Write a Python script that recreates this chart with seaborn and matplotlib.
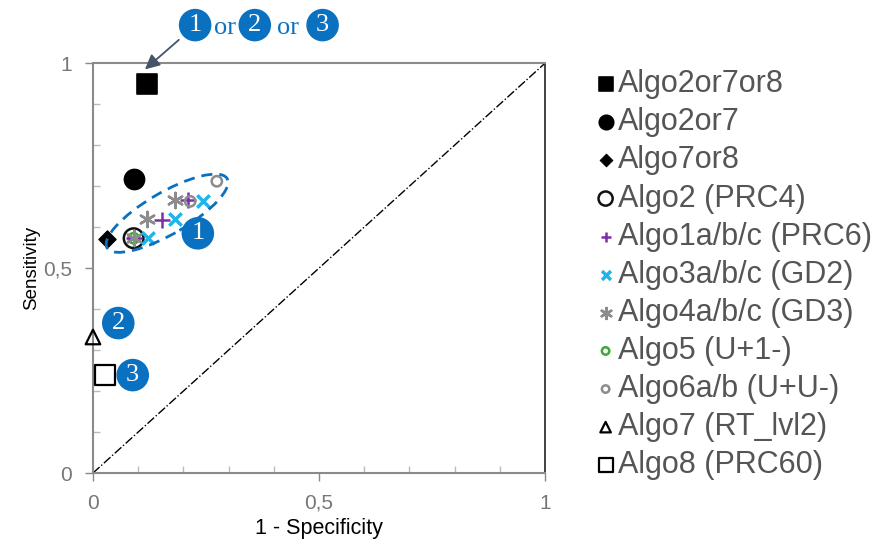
import matplotlib
matplotlib.use("Agg")
import matplotlib.pyplot as plt
from matplotlib.patches import Ellipse
from matplotlib.ticker import FixedLocator, MultipleLocator
import seaborn as sns
import pandas as pd

sns.set_theme(style="white")
plt.rcParams["font.family"] = ["Liberation Sans", "DejaVu Sans"]

# ROC-space points for each algorithm (x = 1 - specificity, y = sensitivity)
labels = [
    "Algo2or7or8", "Algo2or7", "Algo7or8", "Algo2 (PRC4)",
    "Algo1a/b/c (PRC6)", "Algo3a/b/c (GD2)", "Algo4a/b/c (GD3)",
    "Algo5 (U+1-)", "Algo6a/b (U+U-)", "Algo7 (RT_lvl2)", "Algo8 (PRC60)",
]
fpr = [
    [0.12], [0.09], [0.03], [0.09],
    [0.09, 0.153, 0.21], [0.122, 0.181, 0.243], [0.09, 0.119, 0.181],
    [0.09], [0.215, 0.274], [0.0], [0.027],
]
tpr = [
    [0.95], [0.717], [0.571], [0.573],
    [0.573, 0.617, 0.666], [0.573, 0.62, 0.663], [0.573, 0.62, 0.666],
    [0.573], [0.663, 0.712], [0.332], [0.24],
]

BLUE = "#0A70C0"
styles = [
    dict(marker="s", s=220, color="black", edgecolor="black"),
    dict(marker="o", s=210, color="black", edgecolor="black"),
    dict(marker="D", s=80, color="black", edgecolor="black"),
    dict(marker="o", s=200, facecolor="none", edgecolor="#111111", linewidth=1.8),
    dict(marker="+", s=120, color="#7B2FA8", linewidth=1.8),
    dict(marker="x", s=80, color="#1FB4EA", linewidth=2.5),
    dict(marker=(6, 2, 0), s=120, color="#8C8C8C", linewidth=1.8),
    dict(marker="o", s=55, facecolor="none", edgecolor="#3DAA35", linewidth=1.8),
    dict(marker="o", s=55, facecolor="none", edgecolor="#8C8C8C", linewidth=1.8),
    dict(marker="^", s=110, facecolor="none", edgecolor="black", linewidth=1.6),
    dict(marker="s", s=200, facecolor="none", edgecolor="black", linewidth=1.6),
]

fig = plt.figure(figsize=(8.82, 5.45), dpi=100)
ax = fig.add_axes([0.1054, 0.132, 0.5125, 0.752])

ax.plot([0, 1], [0, 1], color="black", linestyle="-.", linewidth=1.0, zorder=1)

order = [0, 1, 2, 3, 7, 4, 6, 5, 8, 9, 10]
for i in order:
    df = pd.DataFrame({"x": fpr[i], "y": tpr[i]})
    sns.scatterplot(data=df, x="x", y="y", ax=ax, label=labels[i],
                    zorder=3, clip_on=False, **styles[i])

ax.set_xlim(0, 1)
ax.set_ylim(0, 1)
ax.xaxis.set_major_locator(FixedLocator([0, 0.5, 1]))
ax.yaxis.set_major_locator(FixedLocator([0, 0.5, 1]))
ax.xaxis.set_minor_locator(MultipleLocator(0.1))
ax.yaxis.set_minor_locator(MultipleLocator(0.1))
ax.set_xticklabels(["0", "0,5", "1"])
ax.set_yticklabels(["0", "0,5", "1"])
ax.tick_params(which="major", direction="out", length=6, width=1,
               color="#888888", labelsize=15, labelcolor="#777777", pad=9,
               bottom=True, left=True)
ax.tick_params(which="minor", direction="in", length=5, width=1,
               color="#BBBBBB", bottom=True, left=True)
ax.set_xlabel("1 - Specificity", fontsize=15.5, color="black", labelpad=4)
ax.set_ylabel("Sensitivity", fontsize=13.5, color="black", labelpad=2)

for side in ["left", "bottom", "top"]:
    ax.spines[side].set_color("#8A8A8A")
    ax.spines[side].set_linewidth(1.5)
ax.spines["right"].set_color("#222222")
ax.spines["right"].set_linewidth(1.2)

# Dashed outline around group 1
ax.add_patch(Ellipse((0.164, 0.634), 0.315, 0.1, angle=33, fill=False,
                     edgecolor=BLUE, linestyle=(0, (4, 2.5)), linewidth=2,
                     zorder=4))


def badge(x, y, num):
    ax.annotate(num, (x, y), xycoords="data", ha="center", va="center",
                fontsize=19, color="white", family=["Liberation Serif"],
                bbox=dict(boxstyle="circle,pad=0.2", fc=BLUE, ec="none"),
                annotation_clip=False, zorder=6)


badge(0.232, 0.585, "1")
badge(0.056, 0.366, "2")
badge(0.088, 0.239, "3")

# Header callout pointing at the combined algorithm
badge(0.226, 1.093, "1")
badge(0.358, 1.093, "2")
badge(0.508, 1.093, "3")
for xo in (0.292, 0.432):
    ax.text(xo, 1.087, "or", ha="center", va="center", fontsize=19,
            color=BLUE, family=["Liberation Serif"], clip_on=False)
ax.annotate("", xy=(0.115, 0.985), xytext=(0.19, 1.057),
            arrowprops=dict(arrowstyle="-|>", color="#44546A", lw=1.3,
                            mutation_scale=22, shrinkA=0, shrinkB=0),
            annotation_clip=False)

handles, hl = ax.get_legend_handles_labels()
lookup = dict(zip(hl, handles))
leg = ax.legend([lookup[l] for l in labels], labels,
                loc="upper left", bbox_to_anchor=(1.08, 1.015),
                frameon=False, fontsize=22, handletextpad=0.0,
                labelspacing=0.265, handlelength=0.8, borderaxespad=0,
                markerscale=0.72)
for t in leg.get_texts():
    t.set_color("#555555")

fig.savefig("out.png", dpi=100)
